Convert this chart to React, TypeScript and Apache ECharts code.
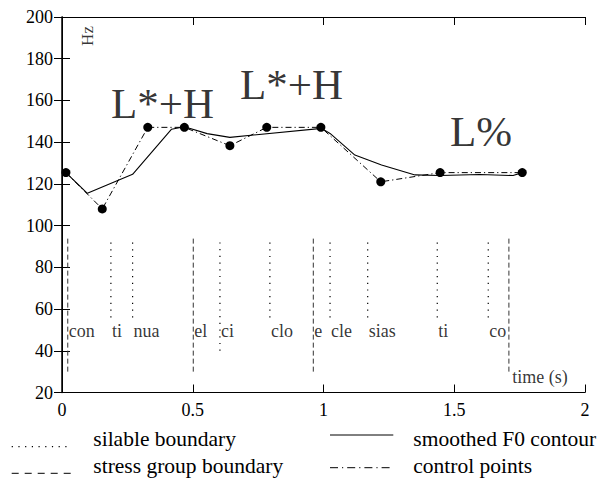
import React, { useEffect, useRef } from 'react';
import * as echarts from 'echarts';

const FONT = '"Liberation Serif", "Times New Roman", serif';

// Axes
const xMin = 0;
const xMax = 2;
const xInterval = 0.5;
const yMin = 20;
const yMax = 200;
const yInterval = 20;

// Smoothed F0 contour (time s, Hz)
const contourTimes = [0.015, 0.097, 0.27, 0.419, 0.468, 0.555, 0.642, 0.993, 1.025, 1.12, 1.222, 1.35, 1.446, 1.598, 1.725, 1.76];
const contourHz = [125.4, 115.5, 124.6, 146.2, 147.4, 144.1, 142.3, 146.6, 144.2, 133.8, 129.1, 124.3, 124.0, 124.5, 124.0, 125.4];

// Control points
const controlTimes = [0.015, 0.154, 0.328, 0.468, 0.642, 0.783, 0.99, 1.219, 1.446, 1.76];
const controlHz = [125.4, 108, 147.1, 147.1, 138.3, 147.1, 147.1, 121, 125.4, 125.4];

// Syllable boundaries (dotted)
const syllableBoundaryTimes = [0.187, 0.27, 0.604, 0.795, 1.025, 1.169, 1.435, 1.63];
const syllableBoundaryBottomHz = [56, 56, 40, 56, 56, 56, 56, 56];
const syllableBoundaryTopHz = 94;

// Stress group boundaries (dashed)
const stressBoundaryTimes = [0.022, 0.502, 0.961, 1.709];
const stressBoundaryBottomHz = 30;
const stressBoundaryTopHz = 95;

// Syllable labels
const syllables = ['con', 'ti', 'nua', 'el', 'ci', 'clo', 'e', 'cle', 'sias', 'ti', 'co'];
const syllableTimes = [0.022, 0.187, 0.27, 0.502, 0.604, 0.795, 0.961, 1.025, 1.169, 1.435, 1.63];
const syllableLabelHz = 49.5;

// Tone labels
const toneLabels = ['L*+H', 'L*+H', 'L%'];
const toneTimes = [0.187, 0.681, 1.484];
const toneHz = [158.7, 167.8, 145.1];

// Axis annotation labels
const timeLabel = 'time (s)';
const timeLabelPos = [1.722, 27.4];
const hzLabel = 'Hz';
const hzLabelPos = [0.096, 190.9];

// Legend
const legendItems = ['silable boundary', 'stress group boundary', 'smoothed F0 contour', 'control points'];

const DOTTED = [1.2, 5.5];
const DASHED = [5, 3];
const DASHDOT = [6, 3, 1.2, 3];

export default function App() {
  const ref = useRef<HTMLDivElement>(null);

  useEffect(() => {
    if (!ref.current) return;
    const chart = echarts.init(ref.current, undefined, { renderer: 'svg' });

    const series: any[] = [];

    syllableBoundaryTimes.forEach((t, i) => {
      series.push({
        type: 'line',
        data: [[t, syllableBoundaryBottomHz[i]], [t, syllableBoundaryTopHz]],
        symbol: 'none',
        lineStyle: { color: '#000', width: 1.2, type: DOTTED },
        silent: true,
        z: 3,
      });
    });

    stressBoundaryTimes.forEach((t) => {
      series.push({
        type: 'line',
        data: [[t, stressBoundaryBottomHz], [t, stressBoundaryTopHz]],
        symbol: 'none',
        lineStyle: { color: '#333', width: 1, type: DASHED },
        silent: true,
        z: 3,
      });
    });

    series.push({
      name: 'smoothed F0 contour',
      type: 'line',
      data: contourTimes.map((t, i) => [t, contourHz[i]]),
      symbol: 'none',
      lineStyle: { color: '#000', width: 1.1, type: 'solid' },
      z: 4,
    });

    series.push({
      name: 'control points',
      type: 'line',
      data: controlTimes.map((t, i) => [t, controlHz[i]]),
      symbol: 'circle',
      symbolSize: 9,
      showAllSymbol: true,
      itemStyle: { color: '#000' },
      lineStyle: { color: '#000', width: 1, type: DASHDOT },
      z: 5,
    });

    series.push({
      type: 'scatter',
      data: syllables.map((s, i) => ({ name: s, value: [syllableTimes[i], syllableLabelHz] })),
      symbolSize: 0,
      silent: true,
      label: {
        show: true,
        formatter: '{b}',
        position: 'right',
        distance: 1,
        color: '#000',
        fontFamily: FONT,
        fontSize: 18,
      },
      z: 6,
    });

    series.push({
      type: 'scatter',
      data: toneLabels.map((s, i) => ({ name: s, value: [toneTimes[i], toneHz[i]] })),
      symbolSize: 0,
      silent: true,
      label: {
        show: true,
        formatter: '{b}',
        position: 'right',
        distance: 0,
        color: '#000',
        fontFamily: FONT,
        fontSize: 43,
      },
      z: 6,
    });

    series.push({
      type: 'scatter',
      data: [{ name: timeLabel, value: timeLabelPos }],
      symbolSize: 0,
      silent: true,
      label: {
        show: true,
        formatter: '{b}',
        position: 'right',
        distance: 0,
        color: '#000',
        fontFamily: FONT,
        fontSize: 18,
      },
      z: 6,
    });

    series.push({
      type: 'scatter',
      data: [{ name: hzLabel, value: hzLabelPos }],
      symbolSize: 0,
      silent: true,
      label: {
        show: true,
        formatter: '{b}',
        position: 'inside',
        rotate: 90,
        color: '#000',
        fontFamily: FONT,
        fontSize: 17,
      },
      z: 6,
    });

    const legendFont = 21.5;
    const graphic: any[] = [
      { type: 'line', shape: { x1: 11.7, y1: 446.7, x2: 71.7, y2: 446.7 }, style: { stroke: '#000', lineWidth: 1.2, lineDash: [1.2, 5.5] } },
      { type: 'text', x: 93.3, y: 439.4, style: { text: legendItems[0], fill: '#000', fontFamily: FONT, fontSize: legendFont, align: 'left', verticalAlign: 'middle', textAlign: 'left', textVerticalAlign: 'middle' } },
      { type: 'line', shape: { x1: 11.7, y1: 473.3, x2: 71.7, y2: 473.3 }, style: { stroke: '#000', lineWidth: 1, lineDash: [7, 6] } },
      { type: 'text', x: 93.3, y: 466, style: { text: legendItems[1], fill: '#000', fontFamily: FONT, fontSize: legendFont, align: 'left', verticalAlign: 'middle', textAlign: 'left', textVerticalAlign: 'middle' } },
      { type: 'line', shape: { x1: 330, y1: 435, x2: 393.3, y2: 435 }, style: { stroke: '#000', lineWidth: 1 } },
      { type: 'text', x: 413.3, y: 439.4, style: { text: legendItems[2], fill: '#000', fontFamily: FONT, fontSize: legendFont, align: 'left', verticalAlign: 'middle', textAlign: 'left', textVerticalAlign: 'middle' } },
      { type: 'line', shape: { x1: 330, y1: 467.7, x2: 393.3, y2: 467.7 }, style: { stroke: '#000', lineWidth: 1, lineDash: [8, 4, 1.2, 4] } },
      { type: 'text', x: 413.3, y: 466, style: { text: legendItems[3], fill: '#000', fontFamily: FONT, fontSize: legendFont, align: 'left', verticalAlign: 'middle', textAlign: 'left', textVerticalAlign: 'middle' } },
    ];

    const axisLine = { show: true, lineStyle: { color: '#000', width: 1 } };
    const axisTick = { show: true, inside: true, length: 8, lineStyle: { color: '#000', width: 1 } };

    chart.setOption({
      animation: false,
      backgroundColor: '#fff',
      grid: { left: 62, right: 15, top: 17, bottom: 93.5, containLabel: false },
      xAxis: [
        {
          type: 'value', min: xMin, max: xMax, interval: xInterval, position: 'bottom',
          axisLine, axisTick, splitLine: { show: false },
          axisLabel: { color: '#000', fontFamily: FONT, fontSize: 18, margin: 8 },
        },
        {
          type: 'value', min: xMin, max: xMax, interval: xInterval, position: 'top',
          axisLine, axisTick, splitLine: { show: false }, axisLabel: { show: false },
        },
      ],
      yAxis: [
        {
          type: 'value', min: yMin, max: yMax, interval: yInterval, position: 'left',
          axisLine: { show: true, lineStyle: { color: '#000', width: 1.5 } }, axisTick, splitLine: { show: false },
          axisLabel: { color: '#000', fontFamily: FONT, fontSize: 18, margin: 9 },
        },
        {
          type: 'value', min: yMin, max: yMax, interval: yInterval, position: 'right',
          axisLine, axisTick, splitLine: { show: false }, axisLabel: { show: false },
        },
      ],
      series,
      graphic,
    });

    return () => chart.dispose();
  }, []);

  return (
    <div
      ref={ref}
      style={{ position: 'fixed', left: 0, top: 0, width: 600, height: 486, background: '#fff' }}
    />
  );
}
